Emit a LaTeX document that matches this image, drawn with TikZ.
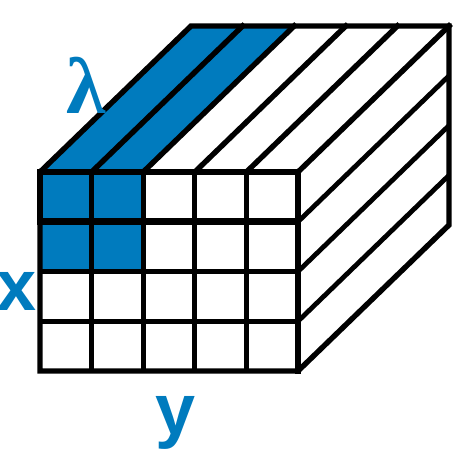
\documentclass[tikz,border=0pt]{standalone}
\usepackage{fontspec}
\setsansfont{Liberation Sans}
\newfontfamily\lamfont{Liberation Serif}
\usetikzlibrary{calc}
\definecolor{cubeblue}{RGB}{0,123,190}

\begin{document}
\begin{tikzpicture}[
  x=0.5pt, y=-0.5pt,
  edge/.style={line width=2.7pt, line join=miter, line cap=rect},
  cell line/.style={line width=2.4pt},
  toprow/.style={line width=3.4pt, line join=miter},
  axis label/.style={text=cubeblue, inner sep=0pt,
    font=\sffamily\bfseries\fontsize{36}{36}\selectfont},
]
\useasboundingbox (0,0) rectangle (461,450);
\def\cw{51.6}  % cell width
\def\ch{49.75} % cell height
\def\dx{151}   % depth offset
\def\dy{-146}

% blue slices
\foreach \i in {0,1}
  \fill[cubeblue] ({40+\i*\cw},172) -- ({40+(\i+1)*\cw},172)
    -- ++(\dx,\dy) -- ++(-\cw,0) -- cycle;
\fill[cubeblue] (40,172) rectangle ({40+2*\cw},{172+2*\ch});

% front grid
\foreach \i in {1,...,4}
  \draw[cell line] ({40+\i*\cw},172) -- ({40+\i*\cw},371);
\foreach \j in {2,3}
  \draw[cell line] (40,{172+\j*\ch}) -- (298,{172+\j*\ch});

% top face strips
\foreach \i in {1,...,5}
  \draw[edge] ({40+\i*\cw},172) -- ++(\dx,\dy);

% right face strips
\foreach \j in {1,...,3}
  \draw[cell line] (298,{172+\j*\ch}) -- ++(\dx,\dy);

% outline of the cube
\draw[edge] (40,172) -- (40,371) -- (298,371) -- ++(\dx,\dy)
  -- (449,26) -- (191,26) -- cycle;
\draw[edge] (298,172) -- (298,371);
\draw[toprow] (40,172) rectangle (298,{172+\ch});

% labels
\node[axis label, font=\lamfont\bfseries\fontsize{40}{40}\selectfont,
  anchor=base] (lambda) at (86,113) {λ};
\node[axis label, anchor=base] (xlab) at (17,310) {x};
\node[axis label, anchor=base] (ylab) at (176,434) {y};
\end{tikzpicture}
\end{document}
